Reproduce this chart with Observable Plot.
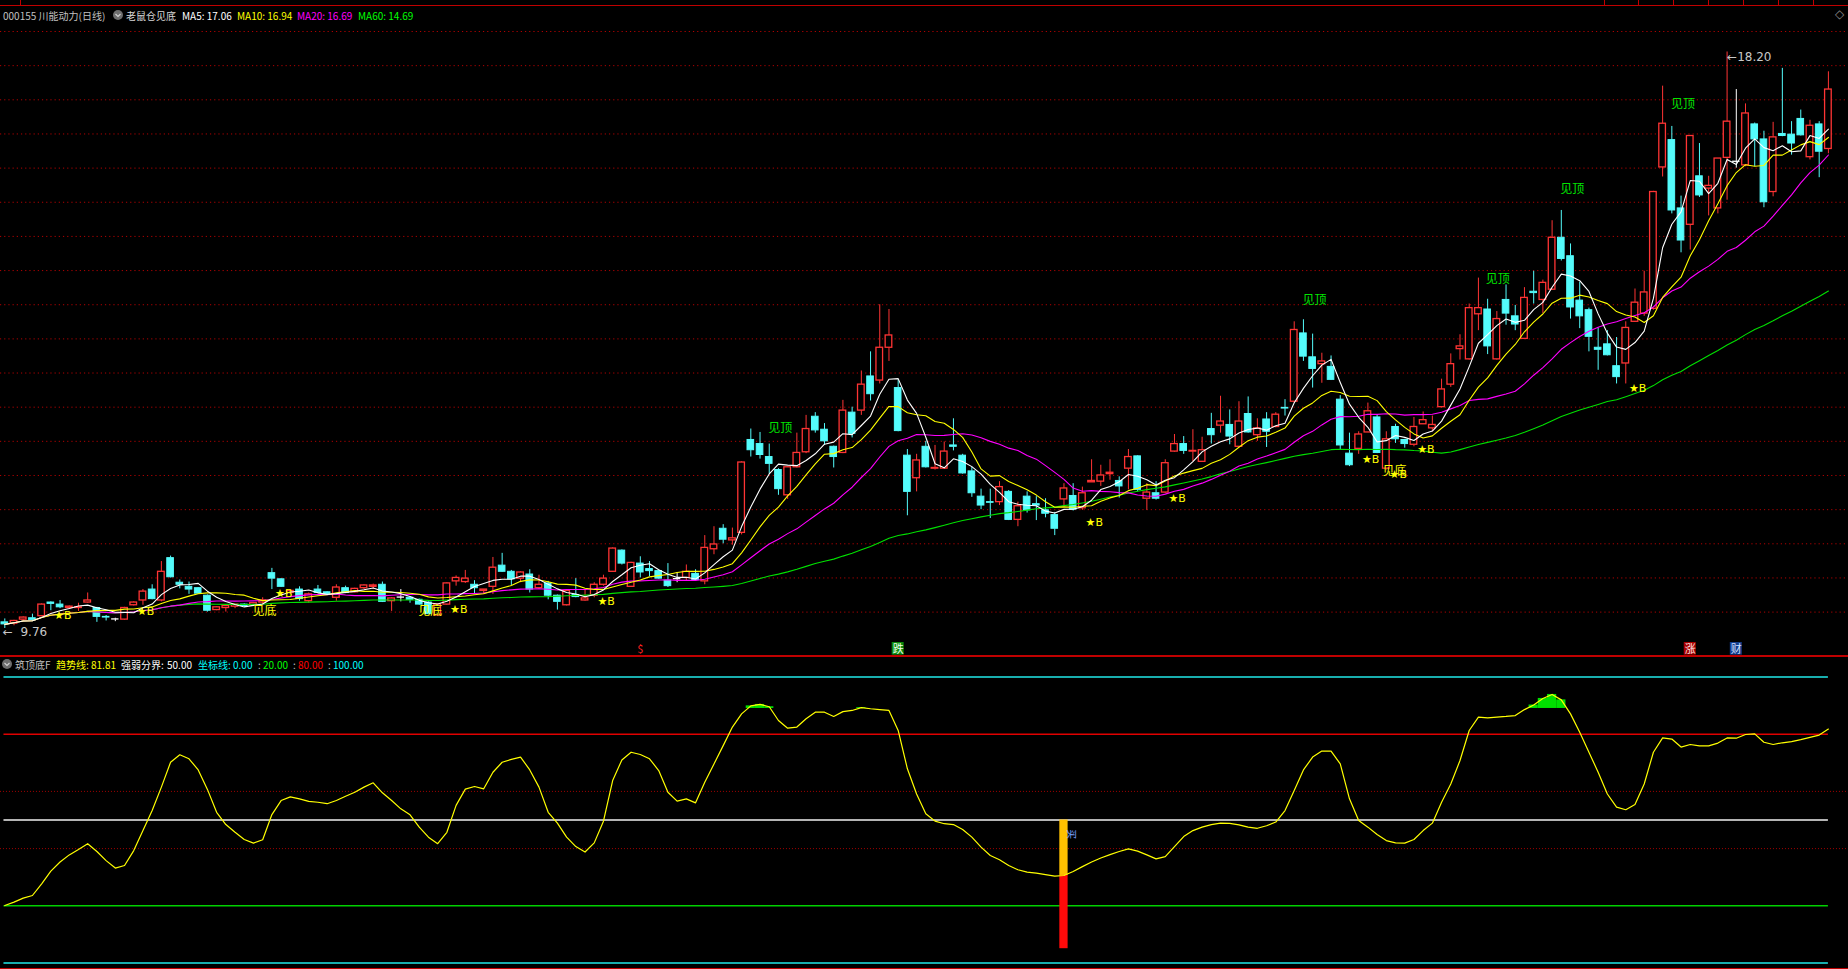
<!DOCTYPE html>
<html><head><meta charset="utf-8">
<script src="https://cdn.jsdelivr.net/npm/d3@7"></script>
<script src="https://cdn.jsdelivr.net/npm/@observablehq/plot@0.6"></script>
<style>
html,body{margin:0;padding:0;background:#000;overflow:hidden}
#wrap{position:relative;width:1848px;height:969px;background:#000;font-family:"Noto Sans CJK SC","Noto Sans",sans-serif}
.abs{position:absolute;white-space:nowrap;font-size:10px;line-height:11px}
.ln{position:absolute;background:#c00000}
</style></head><body><div id="wrap"></div>
<script>
// ---------------- data ----------------
const open  = [9.85,9.83,9.89,9.91,9.94,10.14,10.11,10.06,10.06,10.14,10.06,9.93,9.90,9.89,10.10,10.17,10.33,10.17,10.79,10.43,10.37,10.35,10.24,10.03,10.06,10.08,10.11,10.10,10.14,10.57,10.48,10.28,10.33,10.16,10.33,10.29,10.21,10.35,10.29,10.35,10.37,10.40,10.16,10.22,10.21,10.18,10.14,9.95,10.11,10.45,10.44,10.40,10.31,10.37,10.68,10.59,10.49,10.55,10.35,10.42,10.24,10.10,10.25,10.17,10.24,10.40,10.59,10.90,10.37,10.71,10.63,10.60,10.46,10.49,10.50,10.56,10.45,10.92,11.22,11.05,11.16,12.52,12.46,12.27,12.08,11.71,12.12,12.34,12.86,12.67,12.42,12.33,12.92,12.95,13.45,13.39,13.87,13.28,12.29,11.96,12.42,12.10,12.10,12.44,12.29,12.06,11.69,11.61,11.61,11.76,11.35,11.69,11.58,11.49,11.42,11.65,11.70,11.52,11.90,11.91,12.02,11.92,12.10,12.28,11.66,11.74,11.75,12.35,12.46,12.35,12.20,12.68,12.73,12.74,12.42,12.90,12.59,12.82,12.71,12.99,13.08,14.08,13.73,13.63,13.59,13.11,12.32,12.39,12.63,12.85,12.10,12.71,12.52,12.45,12.75,12.69,13.00,13.33,13.85,13.70,14.36,14.43,13.70,14.57,14.33,14.00,14.69,14.57,14.72,15.48,15.21,14.56,14.42,13.87,13.92,13.60,13.64,14.25,14.37,14.44,16.51,16.91,15.91,15.67,16.38,16.20,15.91,16.65,16.60,16.54,17.14,16.92,16.15,17.00,16.99,17.22,16.66,17.14,16.78];
const high  = [9.90,9.88,9.93,9.97,10.12,10.15,10.17,10.09,10.13,10.28,10.07,9.95,9.91,10.07,10.15,10.33,10.40,10.74,10.82,10.47,10.44,10.36,10.25,10.08,10.10,10.11,10.12,10.14,10.21,10.64,10.49,10.33,10.37,10.28,10.39,10.30,10.40,10.38,10.35,10.40,10.41,10.44,10.21,10.33,10.22,10.19,10.15,10.12,10.43,10.53,10.61,10.46,10.33,10.80,10.86,10.61,10.59,10.62,10.54,10.45,10.25,10.32,10.49,10.33,10.43,10.54,10.94,10.91,10.73,10.81,10.74,10.61,10.71,10.58,10.69,10.62,11.12,11.25,11.28,11.23,12.20,12.68,12.63,12.46,12.10,12.13,12.62,12.88,12.92,12.76,12.43,13.10,13.00,13.53,13.81,14.50,14.43,13.40,12.38,12.31,12.50,12.44,12.49,12.83,12.31,12.12,11.80,11.80,11.91,11.78,11.61,11.76,11.69,11.66,11.46,11.88,11.88,11.83,12.23,12.15,12.23,11.98,12.38,12.29,11.88,11.91,12.23,12.60,12.57,12.67,12.56,12.91,13.16,12.96,13.08,13.15,12.83,12.92,12.92,13.11,14.25,14.28,14.07,13.79,13.75,13.17,12.62,12.64,13.06,12.88,12.64,12.75,12.53,12.85,12.93,12.87,13.41,13.78,14.06,14.51,14.89,14.58,14.40,14.79,14.49,14.75,14.99,14.86,15.73,15.88,15.39,14.83,14.45,14.16,14.12,14.02,14.25,14.73,14.99,16.16,17.70,17.11,16.09,16.97,16.86,16.38,16.64,18.20,17.65,17.44,17.16,17.04,17.17,17.96,17.18,17.35,17.20,17.18,17.91];
const low   = [9.76,9.80,9.86,9.87,9.93,10.02,10.05,10.04,10.01,10.13,9.85,9.87,9.86,9.88,10.09,10.10,10.18,10.15,10.50,10.34,10.26,10.26,10.00,10.02,10.00,10.05,10.07,10.08,10.09,10.33,10.36,10.25,10.16,10.13,10.27,10.25,10.16,10.27,10.28,10.33,10.33,10.14,10.01,10.15,10.13,10.10,9.96,9.94,10.10,10.38,10.42,10.27,10.26,10.26,10.58,10.39,10.43,10.28,10.33,10.18,10.03,10.09,10.21,10.16,10.21,10.38,10.58,10.69,10.36,10.50,10.52,10.48,10.36,10.43,10.45,10.45,10.40,10.84,11.00,10.98,11.13,12.27,12.24,12.02,11.71,11.65,12.11,12.32,12.62,12.44,12.11,12.32,12.55,12.88,13.09,13.34,13.67,12.64,11.41,11.76,12.11,12.08,12.09,12.36,12.02,11.68,11.50,11.37,11.56,11.34,11.25,11.45,11.34,11.38,11.12,11.54,11.48,11.49,11.90,11.84,11.93,11.67,11.79,11.76,11.49,11.64,11.74,12.34,12.31,12.20,12.19,12.46,12.62,12.45,12.42,12.62,12.50,12.41,12.70,12.87,13.06,13.67,13.28,13.35,13.39,12.38,12.13,12.31,12.63,12.32,12.08,12.47,12.40,12.42,12.75,12.64,12.99,13.29,13.69,13.69,14.12,13.77,13.69,14.20,14.12,13.99,14.51,14.37,14.71,15.14,14.29,14.15,13.81,13.54,13.75,13.34,13.34,14.24,14.33,14.42,16.37,15.83,15.26,15.30,16.07,15.80,15.83,16.03,16.50,16.52,16.52,15.92,16.08,16.96,16.69,16.97,16.62,16.36,16.71];
const close = [9.82,9.87,9.92,9.88,10.11,10.12,10.07,10.08,10.07,10.17,9.93,9.92,9.90,10.06,10.14,10.30,10.19,10.59,10.51,10.40,10.33,10.27,10.02,10.07,10.09,10.11,10.09,10.13,10.17,10.49,10.37,10.31,10.19,10.26,10.28,10.26,10.36,10.28,10.34,10.39,10.39,10.15,10.20,10.22,10.18,10.11,9.97,10.11,10.42,10.50,10.49,10.35,10.33,10.65,10.59,10.48,10.58,10.33,10.40,10.24,10.15,10.31,10.22,10.20,10.40,10.49,10.93,10.71,10.72,10.58,10.60,10.49,10.38,10.49,10.59,10.47,10.94,10.99,11.06,11.08,12.19,12.37,12.30,12.17,11.80,12.12,12.33,12.68,12.66,12.50,12.27,12.95,12.61,13.33,13.19,13.87,14.05,12.65,11.76,12.22,12.12,12.11,12.35,12.42,12.03,11.74,11.56,11.60,11.83,11.35,11.55,11.49,11.56,11.44,11.22,11.81,11.50,11.74,11.92,12.00,12.04,11.84,12.27,11.79,11.75,11.66,12.18,12.46,12.36,12.36,12.37,12.59,12.79,12.57,12.79,12.63,12.69,12.64,12.89,12.98,14.13,13.74,13.56,13.67,13.40,12.44,12.15,12.60,12.94,12.33,12.53,12.53,12.46,12.71,12.81,12.74,13.26,13.63,13.89,14.45,14.45,13.89,14.29,14.37,14.21,14.60,14.67,14.82,15.48,15.17,14.46,14.33,14.03,13.84,13.76,13.44,14.16,14.53,14.68,16.15,17.15,15.88,15.44,16.97,16.10,16.24,16.64,17.18,16.60,17.30,16.92,16.00,16.95,16.97,16.86,16.98,17.12,16.74,17.65];
// indicator "趋势线" (0–100)
const trend = [20.1,21.3,22.7,23.6,27.7,32.1,35.3,37.8,39.7,41.7,
39.0,35.8,33.2,34.1,39.3,46.3,53.3,61.5,70.2,72.8,
71.4,67.5,60.7,52.7,48.4,45.7,43.2,41.9,43.1,51.9,
56.8,58.1,57.4,56.5,56.2,55.7,56.8,58.3,59.7,61.5,
63.0,59.5,56.8,53.9,51.8,47.5,44.0,41.7,45.7,55.1,
60.8,61.7,60.9,66.7,70.2,71.2,72.0,67.5,61.5,52.7,
48.9,44.0,40.7,38.8,42.0,49.6,63.8,71.0,73.7,72.9,
71.4,67.3,59.7,56.6,57.4,56.0,63.2,69.6,76.0,82.5,
87.1,89.9,90.4,89.6,84.8,82.1,82.5,85.4,87.7,87.7,
86.2,87.9,88.3,89.3,88.9,88.6,88.3,81.3,67.9,59.1,
52.2,49.6,48.7,48.4,46.7,44.0,40.5,37.6,36.1,34.1,
32.6,31.8,31.4,30.9,30.4,30.6,32.0,33.7,35.3,36.7,
37.9,39.0,39.9,39.1,37.8,36.4,37.2,40.7,44.2,46.3,
47.5,48.4,48.9,48.8,48.3,47.5,47.1,48.0,49.3,53.3,
60.3,67.5,72.0,74.1,74.1,69.6,57.4,49.8,47.5,44.9,
42.8,42.0,41.9,43.2,46.3,48.9,56.2,62.6,70.8,81.3,
86.0,85.7,86.0,86.2,86.5,88.6,90.2,92.5,93.9,92.0,
87.1,80.7,73.7,66.7,59.1,54.5,53.6,55.4,62.6,73.7,
78.7,78.3,75.5,76.4,75.9,75.9,76.9,78.7,78.6,79.9,
80.1,77.2,76.4,77.0,77.4,78.1,78.9,79.7,81.8];
// signal markers (bar index, price)
const starBIdx = [6,15,30,49,65,118,127,148,151,154,177];
const starBPrice = [9.95,10.01,10.27,10.04,10.16,11.31,11.67,12.23,12.01,12.38,13.27];
const jianDiIdx = [28.2,46.2,150.9];
const jianDiPrice = [10.01,10.02,12.07];
const jianDingIdx = [84.2,142.2,162.1,170.2,182.2];
const jianDingPrice = [12.70,14.56,14.87,16.19,17.44];
const flagIdx = [69,97,183,188];
const flagText = ["$","跌","涨","财"];
const buyIdx = [115];
const priceGrid = d3.range(10, 18.51, 0.5);
const levels = [100, 80, 50, 20, 0];
const topHeader = [["000155 川能动力(日线)",3,"#c0c0c0"],["老鼠仓见底",126,"#d8d8d8"],["MA5: 17.06",182,"#ffffff"],["MA10: 16.94",237,"#ffff00"],["MA20: 16.69",297,"#ff00ff"],["MA60: 14.69",358,"#00ff00"]];
const botHeader = [["筑顶底F",15,"#c0c0c0"],["趋势线:",56,"#ffff00"],["81.81",91,"#ffff00"],["强弱分界:",121,"#ffffff"],["50.00",167,"#ffffff"],["坐标线:",198,"#00ffff"],["0.00",233,"#00ffff"],[":",258,"#c0c0c0"],["20.00",263,"#00ff00"],[":",293,"#c0c0c0"],["80.00",298,"#ff0000"],[":",328,"#c0c0c0"],["100.00",333,"#00ffff"]];

// ---------------- build ----------------
const RED = "#ff3434", CYAN = "#54fcfc", WHITE = "#ffffff";
const idx = d3.range(close.length);
const candles = idx.map(i => ({i, o: open[i], h: high[i], l: low[i], c: close[i]}));
const up = candles.filter(d => d.c > d.o), dn = candles.filter(d => d.c < d.o), eq = candles.filter(d => d.c === d.o);
const ma = k => idx.map(i => ({i, v: d3.mean(close.slice(Math.max(0, i - k + 1), i + 1))}));
const starB = starBIdx.map((i, j) => ({i, p: starBPrice[j]}));
const jianDi = jianDiIdx.map((i, j) => ({i, p: jianDiPrice[j]}));
const jianDing = jianDingIdx.map((i, j) => ({i, p: jianDingPrice[j]}));
const flags = flagIdx.map((i, j) => ({i, t: flagText[j]}));
const trendData = idx.map(i => ({i, v: trend[i]}));
const buys = buyIdx.map(i => ({i, v: trend[i]}));
const hiI = d3.maxIndex(high), loI = d3.minIndex(low);
const FONT = "Noto Sans CJK SC";

const wick = (data, color) => [
  Plot.ruleX(data, {x: "i", y1: d => Math.max(d.o, d.c), y2: "h", stroke: color, strokeWidth: 1}),
  Plot.ruleX(data, {x: "i", y1: "l", y2: d => Math.min(d.o, d.c), stroke: color, strokeWidth: 1})
];
const boxBg = {"$": null, "跌": "#0b8a0b", "涨": "#a80000", "财": "#143c8c"};
const boxFg = {"$": "#ff2020", "跌": "#e8ffe8", "涨": "#ffe0e0", "财": "#d0e0ff"};

const p1 = Plot.plot({
  width: 1848, height: 656, marginLeft: 4.3, marginRight: 20.1, marginTop: 31, marginBottom: 44.4,
  x: {domain: [0, 198], axis: null}, y: {domain: [10, 18.5], axis: null},
  style: {background: "transparent", fontFamily: FONT, overflow: "visible"},
  marks: [
    Plot.ruleY(priceGrid, {y: d => d, x1: -0.47, x2: 200.2, stroke: "#b00000", strokeDasharray: "1.2,3"}),
    ...wick(up, RED), ...wick(dn, CYAN), ...wick(eq, WHITE),
    Plot.rect(up, {x1: d => d.i - 0.36, x2: d => d.i + 0.36, y1: "o", y2: "c", fill: "#000", stroke: RED, strokeWidth: 1.3}),
    Plot.rect(dn, {x1: d => d.i - 0.36, x2: d => d.i + 0.36, y1: "c", y2: "o", fill: CYAN, stroke: CYAN, strokeWidth: 1}),
    Plot.ruleY(eq, {y: "c", x1: d => d.i - 0.4, x2: d => d.i + 0.4, stroke: WHITE, strokeWidth: 1.3}),
    Plot.line(ma(60), {x: "i", y: "v", stroke: "#00e000", strokeWidth: 1.1}),
    Plot.line(ma(20), {x: "i", y: "v", stroke: "#ff00ff", strokeWidth: 1.1}),
    Plot.line(ma(10), {x: "i", y: "v", stroke: "#ffff00", strokeWidth: 1.1}),
    Plot.line(ma(5), {x: "i", y: "v", stroke: "#ffffff", strokeWidth: 1.1}),
    Plot.text(jianDi, {x: "i", y: "p", text: d => "见底", fill: "#ffff00", fontSize: 12}),
    Plot.text(starB, {x: "i", y: "p", text: d => "★B", fill: "#ffff00", textAnchor: "start", dx: -6, fontSize: 11, fontFamily: "DejaVu Sans"}),
    Plot.text(jianDing, {x: "i", y: "p", text: d => "见顶", fill: "#00e600", fontSize: 12}),
    Plot.text([hiI], {x: d => d, y: d => high[d], text: d => "←" + high[d].toFixed(2), fill: "#c8c8c8", textAnchor: "start", dx: 0, dy: 5, fontSize: 12, fontFamily: "DejaVu Sans"}),
    Plot.text([loI], {x: d => d, y: d => low[d], text: d => "←  " + low[d].toFixed(2), fill: "#c8c8c8", textAnchor: "start", dx: -2, dy: 4, fontSize: 12, fontFamily: "DejaVu Sans"}),
    Plot.rect(flags.filter(d => boxBg[d.t]), {x1: d => d.i - 0.65, x2: d => d.i + 0.65, y1: 9.37, y2: 9.555, fill: d => boxBg[d.t]}),
    Plot.text(flags, {x: "i", y: 9.46, text: "t", fill: d => boxFg[d.t], fontSize: 11})
  ]
});

const p2 = Plot.plot({
  width: 1848, height: 313, marginLeft: 4.3, marginRight: 20.1, marginTop: 20.5, marginBottom: 6.5,
  x: {domain: [0, 198], axis: null}, y: {domain: [0, 100], axis: null},
  style: {background: "transparent", fontFamily: FONT, overflow: "visible"},
  marks: [
    Plot.ruleY([40, 60], {y: d => d, x1: -0.47, x2: 200.2, stroke: "#a00000", strokeDasharray: "1,2"}),
    Plot.ruleY([levels[0], levels[4]], {y: d => d, x1: -0.09, x2: 198, stroke: "#20e8e8", strokeWidth: 1.4}),
    Plot.ruleY([levels[1]], {y: d => d, x1: -0.09, x2: 198, stroke: "#e00000", strokeWidth: 1.4}),
    Plot.ruleY([levels[2]], {y: d => d, x1: -0.09, x2: 198, stroke: "#f0f0f0", strokeWidth: 1.4}),
    Plot.ruleY([levels[3]], {y: d => d, x1: -0.09, x2: 198, stroke: "#00d000", strokeWidth: 1.4}),
    Plot.rect(trendData.filter(d => d.v > 89), {x1: d => d.i - 0.5, x2: d => d.i + 0.5, y1: 89, y2: "v", fill: "#00e000"}),
    Plot.rect(buys, {x1: d => d.i - 0.45, x2: d => d.i + 0.45, y1: "v", y2: 50, fill: "#ffc000"}),
    Plot.rect(buys, {x1: d => d.i - 0.45, x2: d => d.i + 0.45, y1: 5, y2: "v", fill: "#ff0a0a"}),
    Plot.line(trendData, {x: "i", y: "v", stroke: "#ffff00", strokeWidth: 1.2}),
    Plot.text(buys, {x: "i", y: 45, text: d => "买", rotate: 90, fill: "#7aa0ff", fontSize: 10, dx: 7})
  ]
});

// ---------------- page assembly ----------------
const wrap = document.getElementById("wrap");
p1.style.position = "absolute"; p1.style.left = "0px"; p1.style.top = "0px";
p2.style.position = "absolute"; p2.style.left = "0px"; p2.style.top = "656px";
wrap.appendChild(p1); wrap.appendChild(p2);
const line = (l, t, w, h, c) => { const d = document.createElement("div"); d.className = "ln"; Object.assign(d.style, {left: l + "px", top: t + "px", width: w + "px", height: h + "px"}); if (c) d.style.background = c; wrap.appendChild(d); };
line(0, 5, 1848, 1);
line(20, 0, 1, 5);
[1604, 1638, 1673, 1708, 1743, 1778, 1813].forEach(x => line(x, 0, 1, 5));
line(0, 655, 1848, 1.5);
line(0, 968, 1848, 1);
const txt = (s, l, t, c, extra) => { const d = document.createElement("div"); d.className = "abs"; d.textContent = s; Object.assign(d.style, {left: l + "px", top: t + "px", color: c}, extra || {}); wrap.appendChild(d); return d; };
topHeader.forEach(([s, x, c]) => txt(s, x, 10, c));
botHeader.forEach(([s, x, c]) => txt(s, x, 659, c));
const icon = (cx, cy) => { const ns = "http://www.w3.org/2000/svg"; const s = document.createElementNS(ns, "svg"); s.setAttribute("width", 12); s.setAttribute("height", 12); Object.assign(s.style, {position: "absolute", left: (cx - 6) + "px", top: (cy - 6) + "px"}); s.innerHTML = '<circle cx="6" cy="6" r="5" fill="#6e6e6e"/><path d="M3.5 5 L6 7.5 L8.5 5" stroke="#d0d0d0" stroke-width="1.2" fill="none"/>'; wrap.appendChild(s); };
icon(118, 15); icon(7, 664);
txt("◇", 1835, 9, "#8a8a8a", {fontSize: "12px", fontFamily: "DejaVu Sans"});
</script></body></html>
